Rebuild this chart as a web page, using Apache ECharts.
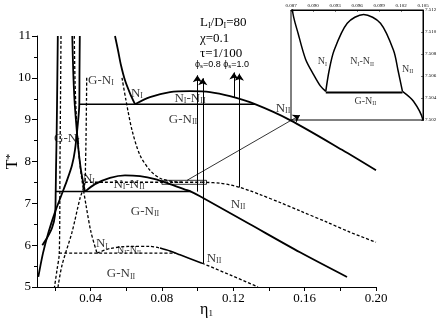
<!DOCTYPE html>
<html>
<head>
<meta charset="utf-8">
<script src="https://cdn.jsdelivr.net/npm/echarts@6.0.0/dist/echarts.min.js"></script>
<style>
  html, body {margin: 0; padding: 0; background: #fff;}
  #chart {width: 442px; height: 325px;}
</style>
</head>
<body>
<div id="chart"></div>
<script>
const font = 'Liberation Serif'

// axis ticks
const xTicks = [0.02, 0.04, 0.06, 0.08, 0.10, 0.12, 0.14, 0.16, 0.18, 0.20]
const xLabels = [0.04, 0.08, 0.12, 0.16, 0.20]

// solid, lower system (tie line T=7.28)
const tieLowT = 7.28
const gasLowX = [0.02166, 0.02138, 0.02104, 0.02065, 0.02048, 0.02009, 0.01841, 0.0156, 0.01297]
const gasLowT = [11, 9.94, 8.75, 7.79, 7.28, 6.72, 6.41, 6.17, 6.0]
const nILowX = [0.02978, 0.03029, 0.03102, 0.03214, 0.03326, 0.03466, 0.0369]
const nILowT = [11, 10.18, 9.46, 8.82, 8.28, 7.79, 7.28]
const domeLowX = [0.0369, 0.04251, 0.05091, 0.05932, 0.06773, 0.07614, 0.08454, 0.09295, 0.0963, 0.10136, 0.12938, 0.1574, 0.18375]
const domeLowT = [7.28, 7.46, 7.61, 7.67, 7.65, 7.58, 7.46, 7.33, 7.28, 7.17, 6.50, 5.83, 5.24]
const tieLowX = [0.02048, 0.0963]

// solid, upper system (tie line T=9.37)
const tieUpT = 9.37
const gasUpX = [0.03399, 0.03382, 0.03371, 0.0327, 0.0313, 0.02962, 0.02681, 0.02345, 0.02009, 0.01645, 0.01336, 0.01073]
const gasUpT = [11, 10.18, 9.37, 8.82, 8.28, 7.91, 7.55, 7.17, 6.79, 6.31, 5.81, 5.24]
const nIUpX = [0.05372, 0.0554, 0.05708, 0.05932, 0.06212, 0.06493]
const nIUpT = [11, 10.66, 10.30, 9.94, 9.63, 9.37]
const domeUpX = [0.06493, 0.07333, 0.08454, 0.09575, 0.10696, 0.11817, 0.13218, 0.1518, 0.18094, 0.2]
const domeUpT = [9.37, 9.54, 9.66, 9.68, 9.66, 9.56, 9.37, 8.99, 8.28, 7.79]
const tieUpX = [0.03371, 0.13218]

// dashed, lower system (tie line T=5.81)
const tieLowDT = 5.81
const gasLowDX = [0.02345, 0.02317, 0.02289, 0.0225, 0.02121, 0.01981]
const gasLowDT = [11, 9.46, 8.03, 5.81, 5.41, 5.0]
const nILowDX = [0.03091, 0.0313, 0.03214, 0.03354, 0.03522, 0.03746, 0.04027, 0.04363]
const nILowDT = [11, 9.94, 8.99, 8.15, 7.55, 6.96, 6.31, 5.81]
const domeLowDX = [0.04363, 0.05091, 0.06212, 0.07333, 0.07894]
const domeLowDT = [5.81, 5.92, 5.97, 5.97, 5.93]
const midLowX = [0.07894, 0.08454, 0.09015, 0.10248]
const midLowT = [5.93, 5.86, 5.77, 5.57]
const tailLowDX = [0.10248, 0.11817, 0.13386]
const tailLowDT = [5.57, 5.29, 5.0]
const tieLowDX = [0.0225, 0.0876]

// dashed, middle system (tie line T=7.5045), also shown in the inset
const tieMidT = 7.5045
const gasMidX = [0.03786, 0.03774, 0.03746, 0.03718, 0.0369, 0.0341, 0.02962, 0.02401, 0.02177]
const gasMidT = [10, 9.46, 8.51, 7.91, 7.5045, 7.12, 6.31, 5.52, 5.0]
const nIMidX = [0.05764, 0.05988, 0.06325, 0.06773, 0.07333, 0.07894, 0.0872, 0.0880, 0.0890, 0.0901, 0.0910, 0.09174]
const nIMidT = [10, 9.46, 8.75, 8.15, 7.79, 7.60, 7.512, 7.5098, 7.5075, 7.5061, 7.5051, 7.5046]
const domeMidX = [0.09174, 0.0922, 0.09286, 0.09467, 0.0969, 0.0992, 0.101, 0.1016, 0.1022]
const domeMidT = [7.5046, 7.5065, 7.5083, 7.5108, 7.5116, 7.5108, 7.5083, 7.5065, 7.5046]
const nIIMidX = [0.1022, 0.1037, 0.105, 0.1126, 0.1182, 0.1238, 0.1294, 0.135, 0.1462, 0.1574, 0.1725, 0.1854, 0.2]
const nIIMidT = [7.5046, 7.5037, 7.502, 7.48, 7.44, 7.38, 7.30, 7.21, 7.02, 6.82, 6.55, 6.31, 6.07]
const tieMidX = [0.0369, 0.1022]
const tieInsetX = [0.09174, 0.1022]

// arrows and zoom box
const arrowX = [0.0999, 0.1029, 0.1204, 0.1234]
const arrowFrom = [7.28, 5.57, 9.53, 7.38]
const arrowTo = [10.06, 9.99, 10.13, 10.10]
const boxX = [0.08, 0.105, 0.105, 0.08, 0.08]
const boxT = [7.455, 7.455, 7.55, 7.55, 7.455]
const pointerFrom = [0.0941, 7.55]
const pointerTo = [0.1574, 9.107]

// region labels
const labelText = ['{n|G-N}{s|I}', '{n|N}{s|I}', '{n|N}{s|I}{n|-N}{s|II}', '{n|G-N}{s|II}', '{n|N}{s|II}',
  '{n|G-N}{s|I}', '{n|N}{s|I}', '{n|N}{s|I}{n|-N}{s|II}', '{n|G-N}{s|II}', '{n|N}{s|II}',
  '{n|N}{s|I}', '{m|N}{t|I}{m|-N}{t|II}', '{n|G-N}{s|II}', '{n|N}{s|II}']
const labelX = [0.04587, 0.06605, 0.09575, 0.09183, 0.14788, 0.02681, 0.03914, 0.06156, 0.07053, 0.12266, 0.04643, 0.06156, 0.05708, 0.1092]
const labelT = [9.94, 9.63, 9.51, 9.01, 9.27, 8.55, 7.58, 7.46, 6.81, 6.98, 6.04, 5.88, 5.31, 5.69]
const insetLabelText = ['{m|N}{t|I}', '{m|N}{t|I}{m|-N}{t|II}', '{m|N}{t|II}', '{m|G-N}{t|II}']
const insetLabelX = [0.09129, 0.0967, 0.1029, 0.09715]
const insetLabelT = [7.5073, 7.5073, 7.5066, 7.5037]

const rich = {
  n: {fontFamily: font, fontSize: 13, lineHeight: 14, color: '#000'},
  s: {fontFamily: font, fontSize: 8, lineHeight: 6, verticalAlign: 'bottom', color: '#000'},
  m: {fontFamily: font, fontSize: 10, lineHeight: 11, color: '#000'},
  t: {fontFamily: font, fontSize: 6, lineHeight: 5, verticalAlign: 'bottom', color: '#000'},
  f: {fontFamily: 'Liberation Sans', fontSize: 9, lineHeight: 10, color: '#000'},
  g: {fontFamily: 'Liberation Sans', fontSize: 6, lineHeight: 5, verticalAlign: 'bottom', color: '#000'}
}

function pts(xs, ts) {
  return xs.map((x, i) => [x, Array.isArray(ts) ? ts[i] : ts])
}

function curve(xs, ts, dashed, grid, width) {
  return {
    type: 'line',
    xAxisIndex: grid,
    yAxisIndex: grid,
    data: pts(xs, ts),
    symbol: 'none',
    smooth: 0.3,
    silent: true,
    z: grid ? 10 : 3,
    lineStyle: {color: '#000', width: width || (dashed ? 1.3 : 1.8), type: dashed ? [3, 2] : 'solid'}
  }
}

function labels(texts, xs, ts, grid) {
  return {
    type: 'scatter',
    xAxisIndex: grid,
    yAxisIndex: grid,
    symbolSize: 0,
    silent: true,
    z: grid ? 11 : 5,
    data: xs.map((x, i) => ({value: [x, ts[i]], label: {formatter: texts[i]}})),
    label: {show: true, position: 'inside', rich: rich}
  }
}

let myChart = echarts.init(document.getElementById('chart'), null, {renderer: 'canvas'})

let option = {
  animation: false,
  backgroundColor: '#fff',
  grid: [
    {left: 37, right: 66, top: 36, bottom: 38, outerBoundsMode: 'none'},
    {left: 291, right: 19, top: 10, bottom: 205, show: true, borderColor: '#000', borderWidth: 1, backgroundColor: '#fff', z: 4, outerBoundsMode: 'none'}
  ],
  xAxis: [
    {
      gridIndex: 0, type: 'value', min: 0.01, max: 0.2,
      axisLine: {show: true, onZero: false, lineStyle: {color: '#000', width: 1}},
      axisTick: {show: true, customValues: xTicks, length: 4, lineStyle: {color: '#000'}},
      axisLabel: {customValues: xLabels, formatter: v => v.toFixed(2), color: '#000', fontFamily: font, fontSize: 13, margin: 5},
      splitLine: {show: false},
      name: '{n|η}{s|1}', nameLocation: 'middle', nameGap: 15, nameMoveOverlap: false,
      nameTextStyle: {rich: {n: {fontFamily: font, fontSize: 16, lineHeight: 16, color: '#000'}, s: {fontFamily: font, fontSize: 9, lineHeight: 6, verticalAlign: 'bottom', color: '#000'}}}
    },
    {
      gridIndex: 1, type: 'value', position: 'top', min: 0.087, max: 0.105, interval: 0.003, z: 12,
      axisLine: {show: true, onZero: false, lineStyle: {color: '#000', width: 1}},
      axisTick: {show: true, inside: true, length: 2, lineStyle: {color: '#000', width: 0.5}},
      axisLabel: {formatter: v => v.toFixed(3), color: '#000', fontFamily: font, fontSize: 5, margin: 2},
      splitLine: {show: false}
    }
  ],
  yAxis: [
    {
      gridIndex: 0, type: 'value', min: 5, max: 11, interval: 1,
      axisLine: {show: true, onZero: false, lineStyle: {color: '#000', width: 1}},
      axisTick: {show: true, length: 5, lineStyle: {color: '#000'}},
      minorTick: {show: true, splitNumber: 2, length: 3, lineStyle: {color: '#000'}},
      axisLabel: {color: '#000', fontFamily: font, fontSize: 13, margin: 6},
      splitLine: {show: false},
      name: '{n|T}{p|*}', nameLocation: 'middle', nameGap: 16, nameRotate: 90, nameMoveOverlap: false,
      nameTextStyle: {rich: {n: {fontFamily: font, fontSize: 16, lineHeight: 16, color: '#000'}, p: {fontFamily: font, fontSize: 11, lineHeight: 9, verticalAlign: 'top', color: '#000'}}}
    },
    {
      gridIndex: 1, type: 'value', position: 'right', min: 7.502, max: 7.512, interval: 0.002, z: 12,
      axisLine: {show: true, onZero: false, lineStyle: {color: '#000', width: 1}},
      axisTick: {show: true, inside: true, length: 2, lineStyle: {color: '#000', width: 0.5}},
      axisLabel: {formatter: v => v.toFixed(3), color: '#000', fontFamily: font, fontSize: 5, margin: 2},
      splitLine: {show: false}
    }
  ],
  graphic: [
    {type: 'text', left: 200, top: 16, style: {text: '{n|L}{s|I}{n|/D}{s|I}{n|=80}', rich: rich}},
    {type: 'text', left: 200, top: 32, style: {text: '{n|χ=0.1}', rich: rich}},
    {type: 'text', left: 200, top: 47, style: {text: '{n|τ=1/100}', rich: rich}},
    {type: 'text', left: 195, top: 60, style: {text: '{f|ϕ}{g|s}{f|=0.8 ϕ}{g|s}{f|=1.0}', rich: rich}}
  ],
  series: [
    // solid systems
    curve(gasLowX, gasLowT, false, 0),
    curve(nILowX, nILowT, false, 0),
    curve(domeLowX, domeLowT, false, 0),
    curve(tieLowX, tieLowT, false, 0, 1.5),
    curve(gasUpX, gasUpT, false, 0),
    curve(nIUpX, nIUpT, false, 0),
    curve(domeUpX, domeUpT, false, 0),
    curve(tieUpX, tieUpT, false, 0, 1.5),
    // dashed systems
    curve(gasLowDX, gasLowDT, true, 0),
    curve(nILowDX, nILowDT, true, 0),
    curve(domeLowDX, domeLowDT, true, 0),
    curve(midLowX, midLowT, false, 0, 1.6),
    curve(tailLowDX, tailLowDT, true, 0),
    curve(tieLowDX, tieLowDT, true, 0),
    curve(gasMidX, gasMidT, true, 0),
    curve(nIMidX, nIMidT, true, 0),
    curve(nIIMidX, nIIMidT, true, 0),
    curve(tieMidX, tieMidT, true, 0),
    // zoom box
    {
      type: 'line', xAxisIndex: 0, yAxisIndex: 0, data: pts(boxX, boxT), symbol: 'none', silent: true, z: 4,
      lineStyle: {color: '#000', width: 0.8}
    },
    // arrows
    {
      type: 'lines', coordinateSystem: 'cartesian2d', xAxisIndex: 0, yAxisIndex: 0, silent: true, z: 4,
      symbol: ['none', 'arrow'], symbolSize: 7,
      lineStyle: {color: '#000', width: 1, opacity: 1, curveness: 0},
      data: arrowX.map((x, i) => ({coords: [[x, arrowFrom[i]], [x, arrowTo[i]]]}))
        .concat([{coords: [pointerFrom, pointerTo], lineStyle: {width: 0.8}}])
    },
    labels(labelText, labelX, labelT, 0),
    // inset
    curve(nIMidX, nIMidT, false, 1, 1.5),
    curve(domeMidX, domeMidT, false, 1, 1.5),
    curve(tieInsetX, tieMidT, false, 1, 1.8),
    curve(nIIMidX, nIIMidT, false, 1, 1.5),
    labels(insetLabelText, insetLabelX, insetLabelT, 1)
  ]
}

myChart.setOption(option)
</script>
</body>
</html>
